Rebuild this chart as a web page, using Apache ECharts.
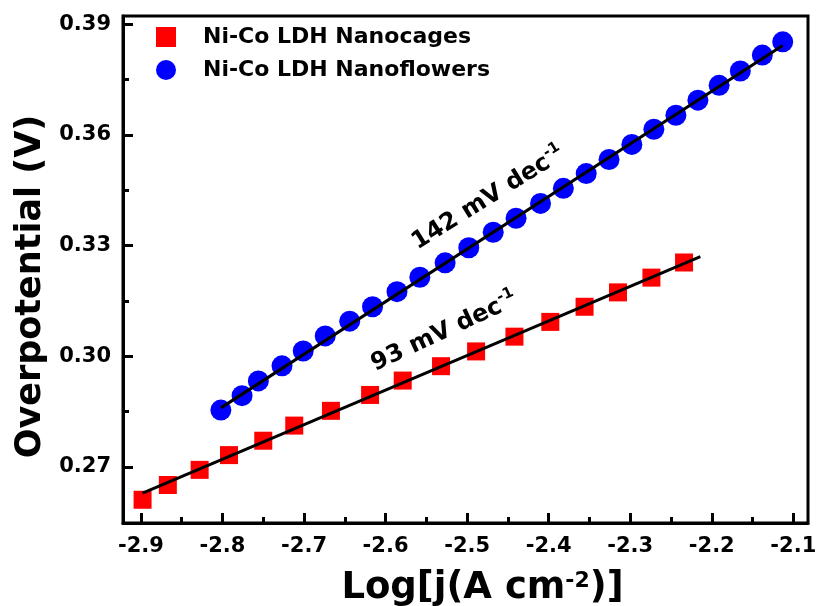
<!DOCTYPE html>
<html><head><meta charset="utf-8">
<script src="https://cdn.jsdelivr.net/npm/echarts@6/dist/echarts.min.js"></script>
<style>html,body{margin:0;padding:0;background:#fff}#c{width:816px;height:606px}</style>
</head><body><div id="c"></div>
<script>
// ---- data ----
const xTicks = [-2.9,-2.8,-2.7,-2.6,-2.5,-2.4,-2.3,-2.2,-2.1];
const xMinorTicks = [-2.85,-2.75,-2.65,-2.55,-2.45,-2.35,-2.25,-2.15];
const yTicks = [0.27,0.30,0.33,0.36,0.39];
const yMinorTicks = [0.285,0.315,0.345,0.375];

const cagesName = 'Ni-Co LDH Nanocages';
const cagesX = [-2.898,-2.867,-2.828,-2.792,-2.750,-2.712,-2.667,-2.619,-2.579,-2.532,-2.489,-2.442,-2.398,-2.356,-2.315,-2.274,-2.234];
const cagesY = [0.2611,0.2651,0.2692,0.2732,0.2771,0.2812,0.2852,0.2895,0.2934,0.2973,0.3013,0.3053,0.3093,0.3134,0.3173,0.3213,0.3254];

const flowersName = 'Ni-Co LDH Nanoflowers';
const flowersX = [-2.802,-2.776,-2.756,-2.727,-2.701,-2.674,-2.644,-2.616,-2.586,-2.558,-2.527,-2.498,-2.468,-2.440,-2.410,-2.382,-2.354,-2.326,-2.298,-2.271,-2.244,-2.217,-2.191,-2.165,-2.138,-2.113];
const flowersY = [0.2854,0.2893,0.2933,0.2974,0.3014,0.3055,0.3095,0.3134,0.3175,0.3214,0.3253,0.3294,0.3336,0.3374,0.3414,0.3455,0.3495,0.3533,0.3574,0.3615,0.3653,0.3694,0.3734,0.3773,0.3816,0.3852];

const cagesFitX = [-2.898,-2.214];
const cagesFitY = [0.2629,0.3270];
const flowersFitX = [-2.802,-2.113];
const flowersFitY = [0.2860,0.3842];

const cagesSlopeText = ['93 mV dec','-1'];
const cagesSlopePos = [-2.528,0.3066];
const flowersSlopeText = ['142 mV dec','-1'];
const flowersSlopePos = [-2.474,0.3428];

const xRange = [-2.922,-2.082];
const yRange = [0.2548,0.3922];

// ---- chart ----
const FONT = 'DejaVu Sans';
const zip = (a,b)=>a.map((v,i)=>[v,b[i]]);
const chart = echarts.init(document.getElementById('c'), null, {renderer:'canvas'});
const G = {left:123, right:8, top:16, bottom:83};

const minorAxis = (isX, vals) => ({
  type:'value', gridIndex:1, min:isX?xRange[0]:yRange[0], max:isX?xRange[1]:yRange[1],
  position:isX?'bottom':'left',
  axisLine:{show:false,onZero:false},
  axisTick:{show:true,inside:true,length:6,lineStyle:{width:3,color:'#000'},customValues:vals},
  axisLabel:{show:false}, splitLine:{show:false}
});

const option = {
  animation:false,
  backgroundColor:'#fff',
  grid:[
    {left:G.left,right:G.right,top:G.top,bottom:G.bottom,outerBoundsMode:'none',containLabel:false,show:true,borderColor:'#000',borderWidth:3,backgroundColor:'transparent'},
    {left:G.left,right:G.right,top:G.top,bottom:G.bottom,outerBoundsMode:'none',containLabel:false,show:false}
  ],
  legend:{
    data:[{name:cagesName,icon:'rect'},{name:flowersName,icon:'circle'}],
    orient:'vertical', left:151, top:21, itemWidth:20, itemHeight:20, itemGap:11,
    textStyle:{fontFamily:FONT,fontWeight:'bold',fontSize:22,color:'#000',padding:[0,0,0,22]}
  },
  xAxis:[{
    type:'value', gridIndex:0, min:xRange[0], max:xRange[1], position:'bottom',
    axisLine:{show:true,onZero:false,lineStyle:{color:'#000',width:3}},
    axisTick:{show:true,inside:true,length:10,lineStyle:{width:3,color:'#000'},customValues:xTicks},
    axisLabel:{customValues:xTicks,formatter:v=>v.toFixed(1),fontFamily:FONT,fontWeight:'bold',fontSize:21,color:'#000',margin:13},
    splitLine:{show:false},
    name:'{a|Log[j(A cm}{s|-2}{a|)]}', nameLocation:'middle', nameGap:47,
    nameTextStyle:{padding:[0,0,0,34],rich:{a:{fontFamily:FONT,fontWeight:'bold',fontSize:37,color:'#000'},s:{fontFamily:FONT,fontWeight:'bold',fontSize:22,color:'#000',verticalAlign:'top'}}}
  }, minorAxis(true, xMinorTicks)],
  yAxis:[{
    type:'value', gridIndex:0, min:yRange[0], max:yRange[1], position:'left',
    axisLine:{show:true,onZero:false,lineStyle:{color:'#000',width:3}},
    axisTick:{show:true,inside:true,length:10,lineStyle:{width:3,color:'#000'},customValues:yTicks},
    axisLabel:{customValues:yTicks,formatter:v=>v.toFixed(2),fontFamily:FONT,fontWeight:'bold',fontSize:21,color:'#000',margin:12},
    splitLine:{show:false},
    name:'Overpotential (V)', nameLocation:'middle', nameGap:72,
    nameTextStyle:{fontFamily:FONT,fontWeight:'bold',fontSize:35,color:'#000',padding:[0,34,0,0]}
  }, minorAxis(false, yMinorTicks)],
  series:[
    {name:cagesName,type:'scatter',data:zip(cagesX,cagesY),symbol:'rect',symbolSize:18,itemStyle:{color:'#ff0000',opacity:1},z:2},
    {name:flowersName,type:'scatter',data:zip(flowersX,flowersY),symbol:'circle',symbolSize:21,itemStyle:{color:'#0000ff',opacity:1},z:2},
    {name:'fit1',type:'line',data:zip(cagesFitX,cagesFitY),symbol:'none',lineStyle:{color:'#000',width:3},z:5,silent:true},
    {name:'fit2',type:'line',data:zip(flowersFitX,flowersFitY),symbol:'none',lineStyle:{color:'#000',width:3},z:5,silent:true}
  ]
};
chart.setOption(option);

function slopeLabel(txt,pos,deg){
  const p = chart.convertToPixel({xAxisIndex:0,yAxisIndex:0},pos);
  return {type:'text',x:p[0],y:p[1],rotation:deg*Math.PI/180,z:10,
    style:{text:'{a|'+txt[0]+'}{s|'+txt[1]+'}',align:'center',verticalAlign:'middle',
      rich:{a:{fontFamily:FONT,fontWeight:'bold',fontSize:24,fill:'#000',lineHeight:30},
            s:{fontFamily:FONT,fontWeight:'bold',fontSize:15,fill:'#000',verticalAlign:'top',lineHeight:30}}}};
}
chart.setOption({graphic:[slopeLabel(flowersSlopeText,flowersSlopePos,32),slopeLabel(cagesSlopeText,cagesSlopePos,25)]});
</script></body></html>
